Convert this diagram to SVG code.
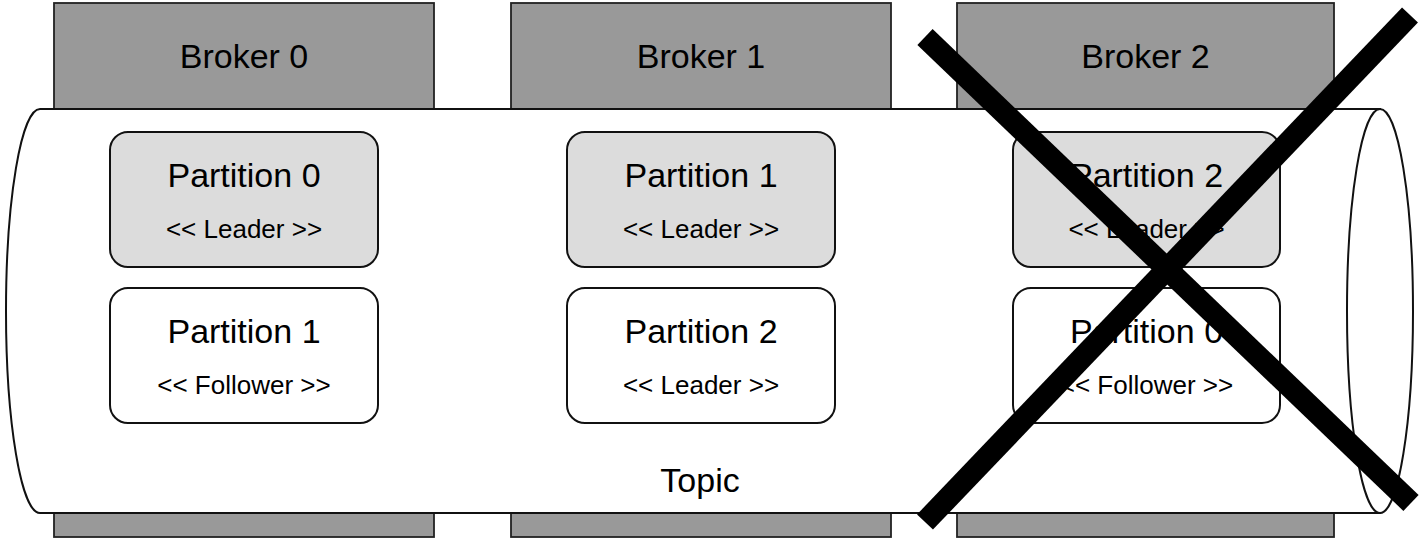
<svg xmlns="http://www.w3.org/2000/svg" width="1425" height="542" viewBox="0 0 1425 542">
<style>
.broker{fill:#999999;stroke:#222;stroke-width:1.8}
.leader{fill:#dcdcdc;stroke:#111;stroke-width:2}
.follower{fill:#ffffff;stroke:#111;stroke-width:2}
.cyl{fill:#ffffff;stroke:#111;stroke-width:2}
.big{font-family:"Liberation Sans",Arial,sans-serif;font-size:34px;fill:#000;text-anchor:middle}
.small{font-family:"Liberation Sans",Arial,sans-serif;font-size:26px;fill:#000;text-anchor:middle}
.cross{stroke:#000;stroke-width:22;stroke-linecap:butt}
</style>
<rect width="1425" height="542" fill="#ffffff"/>
<g id="broker0"><rect class="broker" x="54" y="3" width="380" height="534"/><text class="big" x="244" y="68">Broker 0</text></g>
<g id="broker1"><rect class="broker" x="511" y="3" width="380" height="534"/><text class="big" x="701" y="68">Broker 1</text></g>
<g id="broker2"><rect class="broker" x="957" y="3" width="377" height="534"/><text class="big" x="1145.5" y="68">Broker 2</text></g>
<g id="topic">
<path class="cyl" d="M1380 109 L40 109 A34 202 0 0 0 40 513 L1380 513 Z"/>
<ellipse class="cyl" cx="1380" cy="311" rx="33" ry="202"/>
<text class="big" x="700" y="492">Topic</text>
</g>
<g id="b0-p0"><rect class="leader" x="110" y="132" width="268" height="135" rx="18"/><text class="big" x="244" y="187">Partition 0</text><text class="small" x="244" y="238">&lt;&lt; Leader &gt;&gt;</text></g>
<g id="b0-p1"><rect class="follower" x="110" y="288" width="268" height="135" rx="18"/><text class="big" x="244" y="343">Partition 1</text><text class="small" x="244" y="394">&lt;&lt; Follower &gt;&gt;</text></g>
<g id="b1-p1"><rect class="leader" x="567" y="132" width="268" height="135" rx="18"/><text class="big" x="701" y="187">Partition 1</text><text class="small" x="701" y="238">&lt;&lt; Leader &gt;&gt;</text></g>
<g id="b1-p2"><rect class="follower" x="567" y="288" width="268" height="135" rx="18"/><text class="big" x="701" y="343">Partition 2</text><text class="small" x="701" y="394">&lt;&lt; Leader &gt;&gt;</text></g>
<g id="b2-p2"><rect class="leader" x="1013" y="132" width="267" height="135" rx="18"/><text class="big" x="1146.5" y="187">Partition 2</text><text class="small" x="1146.5" y="238">&lt;&lt; Leader &gt;&gt;</text></g>
<g id="b2-p0"><rect class="follower" x="1013" y="288" width="267" height="135" rx="18"/><text class="big" x="1146.5" y="343">Partition 0</text><text class="small" x="1146.5" y="394">&lt;&lt; Follower &gt;&gt;</text></g>
<g id="connectors">
<line class="cross" x1="925" y1="37" x2="1411" y2="503"/>
<line class="cross" x1="925" y1="522" x2="1410" y2="15"/>
</g>
</svg>
